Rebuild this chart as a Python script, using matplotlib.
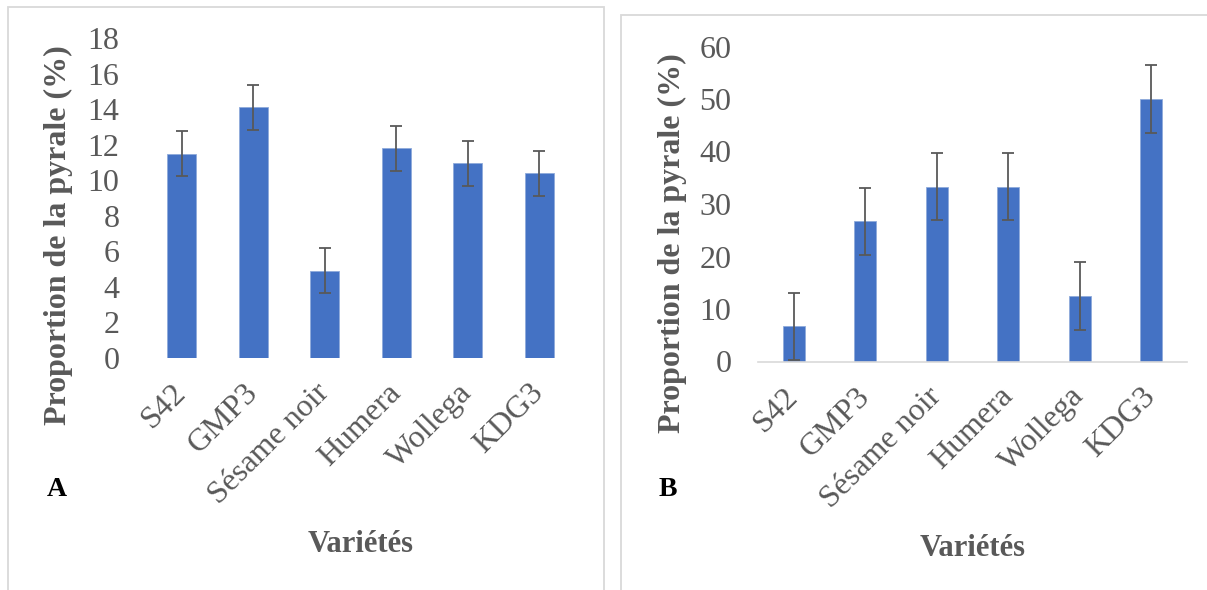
import numpy as np
import matplotlib
matplotlib.use('Agg')
import matplotlib.pyplot as plt
from matplotlib.patches import Rectangle
from matplotlib.transforms import ScaledTranslation

# ── Data ──────────────────────────────────────────────────────────────────────
varietes = ['S42', 'GMP3', 'Sésame noir', 'Humera', 'Wollega', 'KDG3']

prop_a = [11.5, 14.1, 4.9, 11.8, 10.95, 10.4]
err_a  = [1.27, 1.27, 1.27, 1.27, 1.27, 1.27]

prop_b = [6.67, 26.67, 33.33, 33.33, 12.5, 50.0]
err_b  = [6.45, 6.45, 6.45, 6.45, 6.45, 6.45]

BAR   = '#4472C4'
GREY  = '#595959'
FRAME = '#d9d9d9'

plt.rcParams['font.family'] = ['Liberation Serif', 'DejaVu Serif']

W, H = 1207, 590
fig = plt.figure(figsize=(W / 100, H / 100), dpi=100)


def px_axes(x0, x1, y_top, y_bot):
    return fig.add_axes([x0 / W, (H - y_bot) / H, (x1 - x0) / W, (y_bot - y_top) / H])


def frame(x0, y0, x1, y1):
    fig.patches.append(Rectangle((x0 / W, (H - y1) / H), (x1 - x0) / W, (y1 - y0) / H,
                                 transform=fig.transFigure, fill=False,
                                 edgecolor=FRAME, lw=1.3))


def panel(ax, vals, errs, ymax, step, width, baseline, ylab_xy, xlab_y):
    x = np.arange(len(vals))
    ax.bar(x, vals, width=width, color=BAR, edgecolor='#8eaadb', lw=0.6,
           yerr=errs, error_kw=dict(ecolor=GREY, elinewidth=1.3, capsize=4.3,
                                    capthick=1.3))
    ax.set_xlim(-0.5, len(vals) - 0.5)
    ax.set_ylim(0, ymax)
    ax.set_yticks(np.arange(0, ymax + 0.1, step))
    ax.set_xticks(x)
    ax.tick_params(axis='both', length=0, labelsize=23, colors=GREY)
    ax.tick_params(axis='x', pad=11)
    ax.tick_params(axis='y', pad=19)
    ax.set_xticklabels(varietes, rotation=45, ha='right', va='top',
                       rotation_mode='anchor')
    # nudge the slanted labels a little left/down like the original
    shift = ScaledTranslation(-0.10, -0.05, fig.dpi_scale_trans)
    for lab in ax.get_xticklabels():
        lab.set_transform(lab.get_transform() + shift)
    for s in ['top', 'right', 'left']:
        ax.spines[s].set_visible(False)
    if baseline:
        ax.spines['bottom'].set_color(FRAME)
        ax.spines['bottom'].set_linewidth(1.2)
    else:
        ax.spines['bottom'].set_visible(False)
    ax.set_ylabel('Proportion de la pyrale (%)', fontsize=23, fontweight='bold',
                  color=GREY)
    ax.yaxis.set_label_coords(*ylab_xy)
    ax.set_xlabel('Variétés', fontsize=22, fontweight='bold', color=GREY)
    ax.xaxis.set_label_coords(0.5, xlab_y)


frame(8, 7, 604, 600)
frame(621, 15, 1215, 600)

ax_a = px_axes(146, 575, 38, 358)
panel(ax_a, prop_a, err_a, 18, 2, 0.4, False, (-0.17, 0.383), -0.5375)

ax_b = px_axes(758, 1187, 46.5, 361.5)
panel(ax_b, prop_b, err_b, 60, 10, 0.31, True, (-0.166, 0.375), -0.548)

fig.text(47 / W, 1 - 490 / H, 'A', fontsize=20, fontweight='bold',
         ha='left', va='center')
fig.text(659 / W, 1 - 490 / H, 'B', fontsize=20, fontweight='bold',
         ha='left', va='center')

fig.savefig('out.png', dpi=100)
